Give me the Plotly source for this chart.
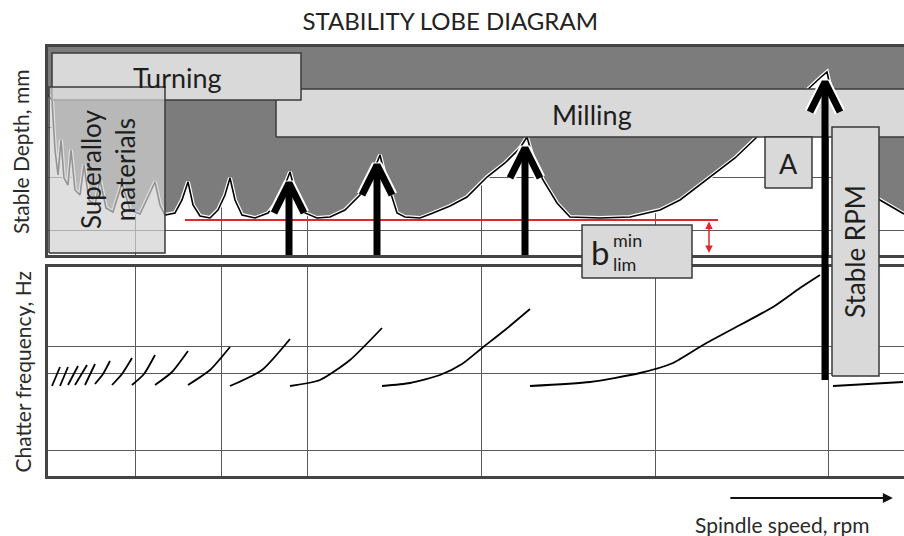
import plotly.graph_objects as go

# ---------------- data (arbitrary units: spindle speed / depth / frequency) ----------------
lobe_speed = [0, 4, 7, 10, 13, 16, 20, 23, 27, 32, 36, 41, 47, 52, 58, 65, 74, 82, 92, 107, 112, 117,
              127, 134, 140, 145, 152, 162, 170, 177, 182, 187, 194, 207, 220, 232, 242, 248, 257,
              269, 282, 297, 312, 324, 332, 338, 344, 349, 357, 372, 385, 402, 419, 439, 457, 472,
              479, 485, 495, 509, 522, 552, 582, 612, 632, 652, 665, 687, 709, 732, 757, 772, 779,
              783, 790, 807, 832, 856]
lobe_depth = [160, 155, 105, 80, 115, 77, 70, 105, 65, 60, 90, 55, 50, 75, 47, 43, 72, 45, 41, 73, 50, 40,
              42, 55, 73, 50, 39, 37, 45, 60, 77, 55, 40, 37, 42, 57, 83, 60, 42,
              37, 38, 45, 60, 80, 100, 75, 58, 42, 38, 37, 42, 49, 58, 78, 92, 107,
              118, 97, 75, 52, 38, 37, 38, 45, 55, 70, 80, 97, 118, 140, 163, 177, 183,
              165, 115, 75, 55, 41]

chatter_speed = [4, 12, None, 12, 20, None, 20, 30, None, 27, 39, None, 37, 47, None,
                 47, 55, 62, None, 64, 74, 84, None, 84, 96, 107, None, 107, 124, 140, None,
                 140, 162, 182, None, 182, 214, 242, None, 242, 272, 302, 334, None,
                 334, 362, 392, 414, 434, 457, 482, None,
                 482, 542, 592, 625, 655, 692, 725, 752, 772, None, 785, 855]
chatter_freq = [90, 109, None, 90, 109, None, 91, 110, None, 91, 111, None, 91, 112, None,
                92, 102, 115, None, 91, 102, 118, None, 91, 102, 121, None, 91, 104, 125, None,
                91, 106, 129, None, 90, 106, 137, None, 90, 96, 116, 148, None,
                90, 93, 101, 112, 128, 146, 167, None,
                90, 94, 103, 113, 131, 151, 169, 188, 201, None, 90, 94]

arrow_speed = [241, 329, 477, 777]
arrow_base = [0, 0, 0, -125]
arrow_tip = [72, 90, 107, 173]

b_lim_min = 35
b_lim_speed = [137, 670]

speed_grid = [87, 173, 259, 433, 607, 780]
depth_grid = [25, 78, 128, 182]
freq_grid = [26, 103, 130]

# ---------------- layout helpers (positions / styles) ----------------
X_RANGE = [0, 856]
DEPTH_RANGE = [0, 208]
FREQ_RANGE = [0, 209]
OVER_RANGE = [-221, 208]
TOP_DOMAIN = [221 / 429, 1]
BOT_DOMAIN = [0, 209 / 429]

FONT = "Lato, Open Sans, sans-serif"
BOX_FILL = "#d9d9d9"
BOX_LINE = "#3a3a3a"
DARK = "#7c7c7c"
GRID = "#5a5a5a"
BORDER = "#444444"
RED = "#e3262b"

boxes = {
    "milling": (228, 870, 118, 166),
    "turning": (4, 253, 155, 202),
    "superalloy": (1, 117, 2, 168),
    "A": (717, 764, 67, 118),
    "blim": (534, 644, -23, 30),
    "rpm": (784, 831, -121, 128),
}

fig = go.Figure()

# stability region above the lobes (dark)
fig.add_trace(go.Scatter(x=lobe_speed + [X_RANGE[1], X_RANGE[0]],
                         y=lobe_depth + [DEPTH_RANGE[1], DEPTH_RANGE[1]],
                         fill="toself", fillcolor=DARK, line=dict(width=0),
                         mode="lines", hoverinfo="skip", xaxis="x", yaxis="y"))
# lobe boundary: white edge + black line
fig.add_trace(go.Scatter(x=lobe_speed, y=lobe_depth, mode="lines",
                         line=dict(color="white", width=4), hoverinfo="skip",
                         xaxis="x", yaxis="y"))
fig.add_trace(go.Scatter(x=lobe_speed, y=lobe_depth, mode="lines",
                         line=dict(color="black", width=1.6), hoverinfo="skip",
                         xaxis="x", yaxis="y"))
# b_lim min line
fig.add_trace(go.Scatter(x=b_lim_speed, y=[b_lim_min, b_lim_min], mode="lines",
                         line=dict(color=RED, width=2), hoverinfo="skip",
                         xaxis="x", yaxis="y"))

# chatter frequency branches
fig.add_trace(go.Scatter(x=chatter_speed, y=chatter_freq, mode="lines",
                         line=dict(color="black", width=1.8, shape="spline", smoothing=0.6),
                         connectgaps=False, hoverinfo="skip", xaxis="x2", yaxis="y2"))


def add_box(key, fill=BOX_FILL):
    x0, x1, y0, y1 = boxes[key]
    fig.add_trace(go.Scatter(x=[x0, x1, x1, x0, x0], y=[y0, y0, y1, y1, y0],
                             fill="toself", fillcolor=fill, mode="lines",
                             line=dict(color=BOX_LINE, width=1.5), hoverinfo="skip",
                             xaxis="x3", yaxis="y3"))


add_box("milling")
add_box("turning")
add_box("superalloy", fill="rgba(210,210,210,0.70)")
add_box("A")
add_box("blim")

# arrows to the lobe peaks
CH_W, CH_H = 15, 30
shaft_x, shaft_y, chev_x, chev_y = [], [], [], []
for s, b, t in zip(arrow_speed, arrow_base, arrow_tip):
    shaft_x += [s, s, None]
    shaft_y += [b, t, None]
    chev_x += [s - CH_W, s, s + CH_W, None]
    chev_y += [t - CH_H, t, t - CH_H, None]
fig.add_trace(go.Scatter(x=chev_x, y=chev_y, mode="lines",
                         line=dict(color="white", width=11), hoverinfo="skip",
                         xaxis="x3", yaxis="y3"))
fig.add_trace(go.Scatter(x=shaft_x + chev_x, y=shaft_y + chev_y, mode="lines",
                         line=dict(color="black", width=7), hoverinfo="skip",
                         xaxis="x3", yaxis="y3"))

add_box("rpm")

# ---------------- axes ----------------
grid_axis = dict(showticklabels=False, ticks="", zeroline=False, showgrid=True,
                 gridcolor=GRID, gridwidth=1, showline=True, linecolor=BORDER, linewidth=3)
fig.update_layout(
    xaxis=dict(domain=[0, 1], range=X_RANGE, tickvals=speed_grid, anchor="y", mirror=True, **grid_axis),
    yaxis=dict(domain=TOP_DOMAIN, range=DEPTH_RANGE, tickvals=depth_grid, anchor="x", mirror=False, **grid_axis),
    xaxis2=dict(domain=[0, 1], range=X_RANGE, tickvals=speed_grid, anchor="y2", mirror=True, **grid_axis),
    yaxis2=dict(domain=BOT_DOMAIN, range=FREQ_RANGE, tickvals=freq_grid, anchor="x2", mirror=False, **grid_axis),
    xaxis3=dict(domain=[0, 1], range=X_RANGE, anchor="y3", visible=False),
    yaxis3=dict(domain=[0, 1], range=OVER_RANGE, anchor="x3", visible=False),
)

# ---------------- text ----------------
TXT = "#1e1e1e"
ann = []


def label(text, x, y, size, angle=0, xanchor="center"):
    ann.append(dict(text=text, x=x, y=y, xref="x3", yref="y3", showarrow=False,
                    textangle=angle, xanchor=xanchor, yanchor="middle",
                    font=dict(family=FONT, size=size, color=TXT)))


label("Turning", 129, 178, 27)
label("Milling", 544, 141, 27)
label("Superalloy<br>materials", 60, 85, 26, angle=-90)
label("A", 740, 92, 27)
label("Stable RPM", 807, 3, 26, angle=-90)
label("b", 552, 3, 33)
label("min", 563, 15, 18, xanchor="left")
label("lim", 563, -9, 18, xanchor="left")

# red double arrow for b_lim
ann.append(dict(x=661, y=2, ax=661, ay=b_lim_min, xref="x3", yref="y3", axref="x3", ayref="y3",
                text="", showarrow=True, arrowhead=2, startarrowhead=2, arrowside="end+start",
                arrowsize=1, arrowwidth=1.5, arrowcolor=RED))

# axis titles
ann.append(dict(text="Stable Depth, mm", x=-0.0327, y=0.755, xref="paper", yref="paper",
                showarrow=False, textangle=-90, xanchor="center", yanchor="middle",
                font=dict(family=FONT, size=21, color="#2a2a2a")))
ann.append(dict(text="Chatter frequency, Hz", x=-0.030, y=0.242, xref="paper", yref="paper",
                showarrow=False, textangle=-90, xanchor="center", yanchor="middle",
                font=dict(family=FONT, size=21, color="#2a2a2a")))
ann.append(dict(text="Spindle speed, rpm", x=0.8586, y=-0.1142, xref="paper", yref="paper",
                showarrow=False, xanchor="center", yanchor="middle",
                font=dict(family=FONT, size=21, color="#2a2a2a")))
ann.append(dict(text="", x=0.987, y=-0.0513, xref="paper", yref="paper", ax=-164, ay=0,
                showarrow=True, arrowhead=2, arrowsize=1, arrowwidth=2, arrowcolor="#111"))

fig.update_layout(
    width=904, height=536,
    margin=dict(l=48, r=0, t=47, b=60),
    paper_bgcolor="white", plot_bgcolor="rgba(0,0,0,0)",
    showlegend=False,
    title=dict(text="STABILITY LOBE DIAGRAM", x=0.498, xref="container", xanchor="center",
               y=1 - 22 / 536, yref="container", yanchor="middle",
               font=dict(family=FONT, size=24, color="#222")),
    annotations=ann,
)

fig.write_html("out.html", config={"displayModeBar": False},
               post_script="document.body.style.margin='0';document.body.style.overflow='hidden';")
